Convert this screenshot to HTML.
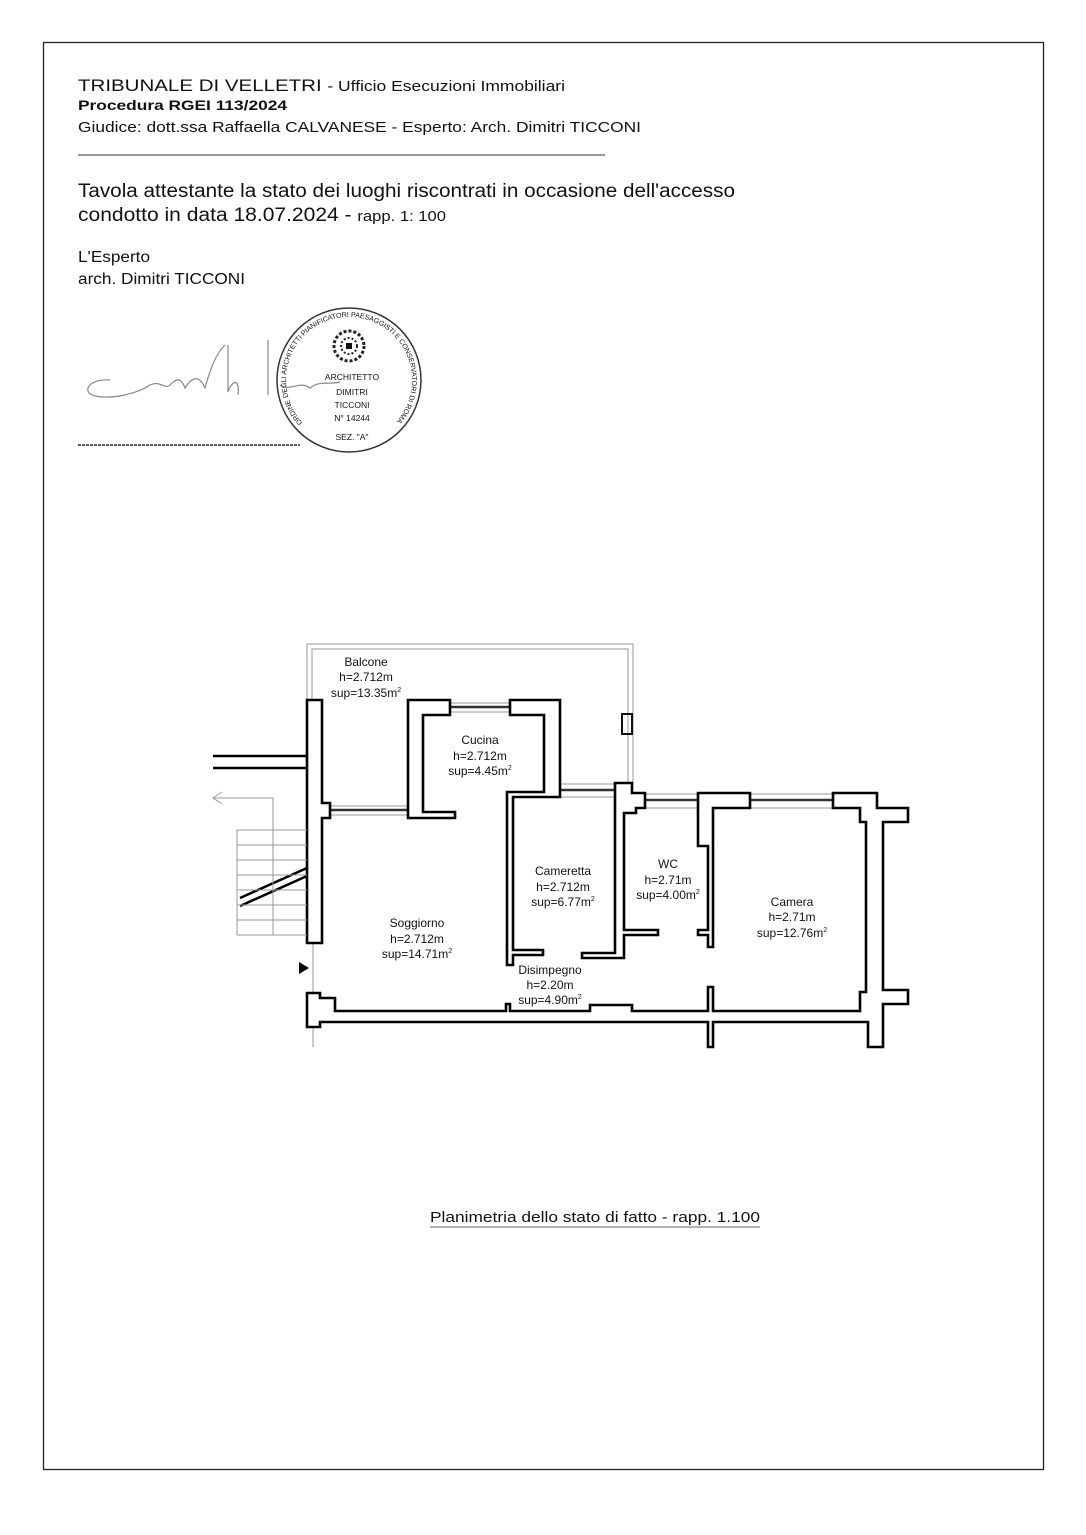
<!DOCTYPE html>
<html><head><meta charset="utf-8"><style>
body{margin:0;background:#fff}
svg{display:block}
text{font-family:"Liberation Sans",Arial,sans-serif;fill:#111}
</style></head><body>
<svg width="1086" height="1535" viewBox="0 0 1086 1535" xmlns="http://www.w3.org/2000/svg">
<rect x="43.5" y="42.5" width="1000" height="1427" fill="none" stroke="#222" stroke-width="1.3"/>
<text x="78" y="91" font-size="17" textLength="487" lengthAdjust="spacingAndGlyphs">TRIBUNALE DI VELLETRI <tspan font-size="14.5">- Ufficio Esecuzioni Immobiliari</tspan></text>
<text x="78" y="110" font-size="14" font-weight="bold" textLength="209" lengthAdjust="spacingAndGlyphs">Procedura RGEI 113/2024</text>
<text x="78" y="132" font-size="15" textLength="563" lengthAdjust="spacingAndGlyphs">Giudice: dott.ssa Raffaella CALVANESE - Esperto: Arch. Dimitri TICCONI</text>
<line x1="78" y1="155" x2="605" y2="155" stroke="#333" stroke-width="1"/>
<text x="78" y="197" font-size="19" textLength="657" lengthAdjust="spacingAndGlyphs">Tavola attestante la stato dei luoghi riscontrati in occasione dell'accesso</text>
<text x="78" y="221" font-size="19" textLength="368" lengthAdjust="spacingAndGlyphs">condotto in data 18.07.2024 - <tspan font-size="15">rapp. 1: 100</tspan></text>
<text x="78" y="262" font-size="15.5" textLength="72" lengthAdjust="spacingAndGlyphs">L'Esperto</text>
<text x="78" y="284" font-size="15.5" textLength="167" lengthAdjust="spacingAndGlyphs">arch. Dimitri TICCONI</text>
<g fill="none" stroke="#888" stroke-width="1.2">
<path d="M110 380 C90 378,80 392,95 396 C115 400,140 392,150 385 C160 380,165 390,170 385 C175 380,180 375,185 388 C190 380,198 372,205 388 C210 370,215 355,225 345 M228 345 L228 392 C232 380,240 378,238 395"/>
<path d="M268 340 L268 395 M280 385 C290 392,300 380,310 388 C320 380,330 385,340 382"/>
</g>
<line x1="78" y1="445" x2="300" y2="445" stroke="#222" stroke-width="1.5" stroke-dasharray="3,1"/>
<circle cx="349" cy="380" r="72" fill="none" stroke="#333" stroke-width="1.5"/>
<circle cx="349" cy="346" r="15" fill="none" stroke="#222" stroke-width="3" stroke-dasharray="3,2"/>
<circle cx="349" cy="346" r="8" fill="none" stroke="#222" stroke-width="2" stroke-dasharray="2,2"/>
<rect x="346" y="343" width="6" height="6" fill="#111"/>
<text x="352" y="380" font-size="8.5" text-anchor="middle">ARCHITETTO</text>
<text x="352" y="395" font-size="8.5" text-anchor="middle">DIMITRI</text>
<text x="352" y="408" font-size="8.5" text-anchor="middle">TICCONI</text>
<text x="352" y="421" font-size="8.5" text-anchor="middle">N° 14244</text>
<text x="352" y="440" font-size="8.5" text-anchor="middle">SEZ. "A"</text>
<path id="arc" d="M304 424 A63 63 0 1 1 394 424" fill="none"/>
<text font-size="7"><textPath href="#arc" startOffset="2">ORDINE DEGLI ARCHITETTI PIANIFICATORI PAESAGGISTI E CONSERVATORI DI ROMA E PROVINCIA</textPath></text>
<g fill="none" stroke="#999" stroke-width="1">
<polyline points="307,700 307,644 633,644 633,785"/>
<polyline points="312,700 312,649 628,649 628,785"/>
<rect x="622" y="714" width="10" height="20" stroke="#111" stroke-width="2"/>
<line x1="330" y1="806" x2="407" y2="806"/><line x1="330" y1="815" x2="407" y2="815"/>
<line x1="450" y1="703" x2="510" y2="703"/><line x1="450" y1="712" x2="510" y2="712"/>
<line x1="560" y1="784" x2="615" y2="784"/><line x1="560" y1="797" x2="615" y2="797"/>
<line x1="645" y1="794" x2="697" y2="794"/><line x1="645" y1="808" x2="697" y2="808"/>
<line x1="750" y1="794" x2="833" y2="794"/><line x1="750" y1="808" x2="833" y2="808"/>
<line x1="313" y1="943" x2="313" y2="993"/><line x1="313" y1="1022" x2="313" y2="1047"/>
</g>
<g stroke="#333" stroke-width="2.5">
<line x1="330" y1="810" x2="407" y2="810"/><line x1="450" y1="707" x2="510" y2="707"/>
<line x1="560" y1="790" x2="615" y2="790"/><line x1="645" y1="800" x2="697" y2="800"/><line x1="750" y1="800" x2="833" y2="800"/>
</g>
<g fill="#fff" stroke="#000" stroke-width="2.6" stroke-linejoin="miter">
<polygon points="307,700 322,700 322,803 330,803 330,818 322,818 322,943 307,943"/>
<polygon points="408,700 450,700 450,715 423,715 423,812 455,812 455,818 408,818"/>
<polygon points="510,700 560,700 560,797 513,797 513,950 543,950 543,955 513,955 513,965 507,965 507,792 544,792 544,715 510,715"/>
<polygon points="615,783 632,783 632,793 645,793 645,808 636,808 636,813 624,813 624,930 658,930 658,935 624,935 624,958 582,958 582,953 615,953"/>
<polygon points="698,793 750,793 750,808 713,808 713,947 708,947 708,935 698,935 698,930 708,930 708,846 698,846"/>
<polygon points="833,793 877,793 877,808 908,808 908,822 883,822 883,990 908,990 908,1004 883,1004 883,1047 868,1047 868,1022 713,1022 713,1047 708,1047 708,1022 320,1022 320,1027 307,1027 307,993 320,993 320,998 335,998 335,1011 506,1011 506,1004 510,1004 510,1011 590,1011 590,1005 632,1005 632,1011 708,1011 708,987 713,987 713,1011 860,1011 860,992 866,992 866,822 860,822 860,808 833,808"/>
</g>
<g stroke="#000" stroke-width="2.5" fill="none">
<line x1="213" y1="756" x2="307" y2="756"/><line x1="213" y1="768" x2="307" y2="768"/>
<line x1="240" y1="898" x2="307" y2="868"/><line x1="240" y1="906" x2="307" y2="876"/>
</g>
<g stroke="#999" stroke-width="1" fill="none">
<polyline points="213,798 273,798 273,935"/>
<polyline points="222,792 213,798 222,804"/>
<line x1="237" y1="830" x2="237" y2="935"/>
<line x1="237" y1="830" x2="307" y2="830"/><line x1="237" y1="845" x2="307" y2="845"/>
<line x1="237" y1="860" x2="307" y2="860"/><line x1="237" y1="875" x2="307" y2="875"/>
<line x1="237" y1="890" x2="307" y2="890"/><line x1="237" y1="905" x2="307" y2="905"/>
<line x1="237" y1="920" x2="307" y2="920"/><line x1="237" y1="935" x2="307" y2="935"/>
</g>
<polygon points="299,962 309,968 299,974" fill="#000"/>
<g font-size="12" text-anchor="middle">
<text x="366" y="666">Balcone</text><text x="366" y="681">h=2.712m</text><text x="366" y="697">sup=13.35m<tspan font-size="7" dy="-5">2</tspan></text>
<text x="480" y="744">Cucina</text><text x="480" y="760">h=2.712m</text><text x="480" y="775">sup=4.45m<tspan font-size="7" dy="-5">2</tspan></text>
<text x="563" y="875">Cameretta</text><text x="563" y="891">h=2.712m</text><text x="563" y="906">sup=6.77m<tspan font-size="7" dy="-5">2</tspan></text>
<text x="668" y="868">WC</text><text x="668" y="884">h=2.71m</text><text x="668" y="899">sup=4.00m<tspan font-size="7" dy="-5">2</tspan></text>
<text x="792" y="906">Camera</text><text x="792" y="921">h=2.71m</text><text x="792" y="937">sup=12.76m<tspan font-size="7" dy="-5">2</tspan></text>
<text x="417" y="927">Soggiorno</text><text x="417" y="943">h=2.712m</text><text x="417" y="958">sup=14.71m<tspan font-size="7" dy="-5">2</tspan></text>
<text x="550" y="974">Disimpegno</text><text x="550" y="989">h=2.20m</text><text x="550" y="1004">sup=4.90m<tspan font-size="7" dy="-5">2</tspan></text>
</g>
<text x="430" y="1222" font-size="15" textLength="330" lengthAdjust="spacingAndGlyphs">Planimetria dello stato di fatto - rapp. 1.100</text>
<line x1="430" y1="1227" x2="760" y2="1227" stroke="#666" stroke-width="1"/>
</svg>
</body></html>
